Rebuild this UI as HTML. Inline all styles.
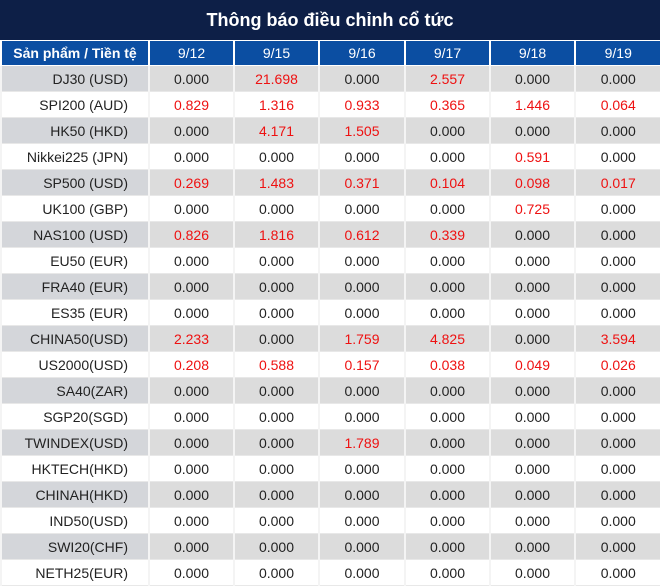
<!DOCTYPE html>
<html><head><meta charset="utf-8">
<style>
body{margin:0;width:660px;height:587px;overflow:hidden;background:#fff;font-family:"Liberation Sans","DejaVu Sans",sans-serif;}
#title{position:absolute;left:0;top:0;width:660px;height:40px;background:#0d1f47;color:#fff;font-weight:bold;font-size:18px;text-align:center;line-height:40px;}
table{position:absolute;left:0;top:40px;border-collapse:collapse;table-layout:fixed;width:660px;}
td,th{height:25px;padding:0;font-size:14px;text-align:center;border:1px solid #e8e8e8;border-left:2px solid #f4f4f4;}
th{height:24px;background:#0b4ea2;color:#fff;font-weight:normal;border:1px solid #fff;border-left:2px solid #fff;}
th.first{font-weight:bold;}
td.name{text-align:right;padding-right:20px;color:#222;}
tr.g td{background:#dcdcdc;}
tr.g td.name{background:#d4d6da;}
td.v{color:#222;}
td.r{color:#ee1111;}
</style></head><body>
<div id="title">Thông báo điều chỉnh cổ tức</div>
<table>
<colgroup><col style="width:148px"><col style="width:85px"><col style="width:85px"><col style="width:86px"><col style="width:85px"><col style="width:85px"><col style="width:86px"></colgroup>
<thead><tr id="hdr"></tr></thead>
<tbody id="body"></tbody>
</table>
<script>
const dates=["9/12","9/15","9/16","9/17","9/18","9/19"];
const products=["DJ30 (USD)","SPI200 (AUD)","HK50 (HKD)","Nikkei225 (JPN)","SP500 (USD)","UK100 (GBP)","NAS100 (USD)","EU50 (EUR)","FRA40 (EUR)","ES35 (EUR)","CHINA50(USD)","US2000(USD)","SA40(ZAR)","SGP20(SGD)","TWINDEX(USD)","HKTECH(HKD)","CHINAH(HKD)","IND50(USD)","SWI20(CHF)","NETH25(EUR)"];
const values=[
[0,21.698,0,2.557,0,0],
[0.829,1.316,0.933,0.365,1.446,0.064],
[0,4.171,1.505,0,0,0],
[0,0,0,0,0.591,0],
[0.269,1.483,0.371,0.104,0.098,0.017],
[0,0,0,0,0.725,0],
[0.826,1.816,0.612,0.339,0,0],
[0,0,0,0,0,0],
[0,0,0,0,0,0],
[0,0,0,0,0,0],
[2.233,0,1.759,4.825,0,3.594],
[0.208,0.588,0.157,0.038,0.049,0.026],
[0,0,0,0,0,0],
[0,0,0,0,0,0],
[0,0,1.789,0,0,0],
[0,0,0,0,0,0],
[0,0,0,0,0,0],
[0,0,0,0,0,0],
[0,0,0,0,0,0],
[0,0,0,0,0,0]];
const hdr=document.getElementById('hdr');
const h0=document.createElement('th');
h0.className='first';h0.textContent='Sản phẩm / Tiền tệ';


hdr.appendChild(h0);
dates.forEach(d=>{const th=document.createElement('th');th.textContent=d;


hdr.appendChild(th);});
const body=document.getElementById('body');
products.forEach((p,i)=>{
 const tr=document.createElement('tr');
 
 
 if(i%2===0)tr.className='g';
 const n=document.createElement('td');n.className='name';n.textContent=p;
 
 
 tr.appendChild(n);
 values[i].forEach(v=>{const td=document.createElement('td');
  td.className=v>0?'r':'v';td.textContent=v.toFixed(3);
  
  
  tr.appendChild(td);});
 body.appendChild(tr);
});
</script>
</body></html>
